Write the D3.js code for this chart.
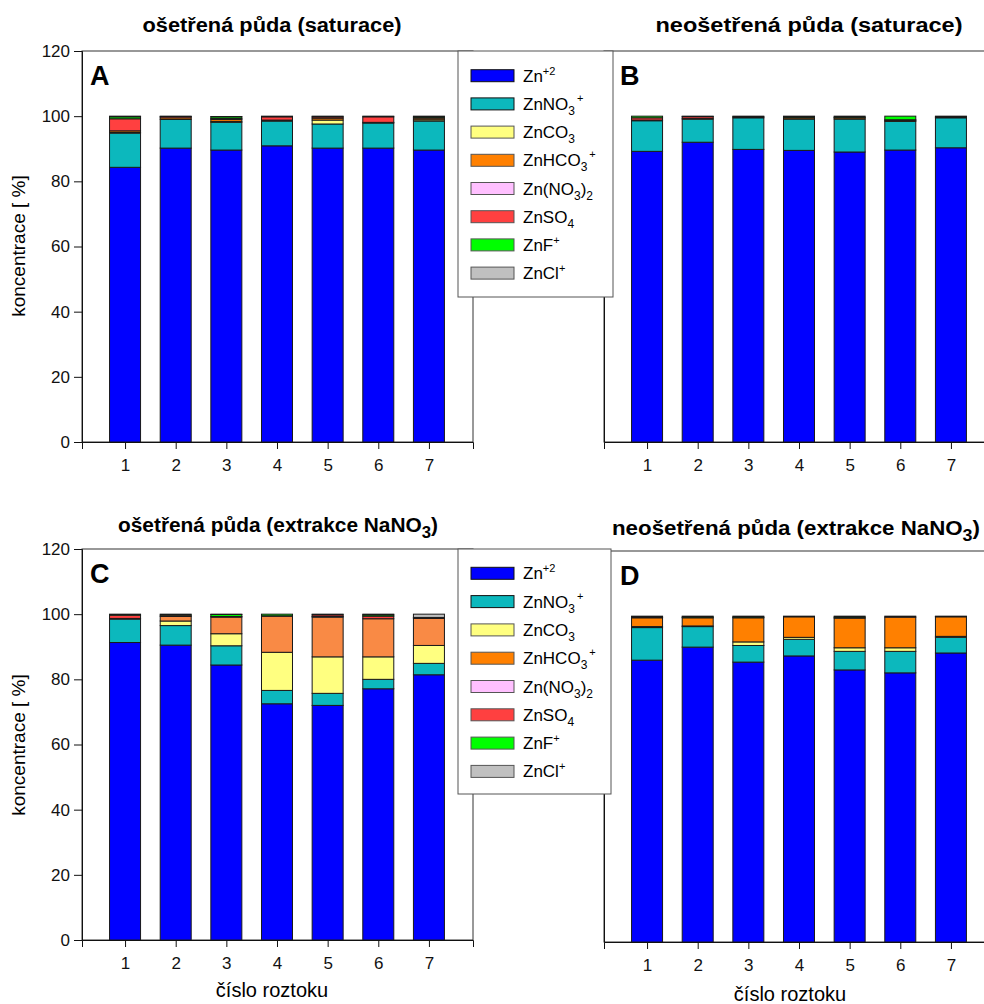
<!DOCTYPE html>
<html>
<head>
<meta charset="utf-8">
<script src="https://cdn.jsdelivr.net/npm/d3@7"></script>
<style>
  body { margin: 0; background: #fff; }
  svg { font-family: Arial, "Liberation Sans", sans-serif; }
</style>
</head>
<body>
<div class="graphContainer"></div>
<script>
// categories (solution number) and species
const categories = [1, 2, 3, 4, 5, 6, 7];
const species = ["Zn2", "ZnNO3", "ZnCO3", "ZnHCO3", "ZnNO32", "ZnSO4", "ZnF", "ZnCl"];
const speciesColors = ["#0000ff", "#0cb8bd", "#ffff80", "#ff8000", "#ffc0ff", "#ff4040", "#00ff00", "#c0c0c0"];
// panel C shows the bicarbonate fill a bit lighter
const speciesColorsC = ["#0000ff", "#0cb8bd", "#ffff80", "#f98a45", "#ffc0ff", "#ff4040", "#00ff00", "#c0c0c0"];
const yTicks = [0, 20, 40, 60, 80, 100, 120];

// legend labels: [text, "sub"/"sup"/""]
const speciesLabels = [
  [["Zn", ""], ["+2", "sup"]],
  [["ZnNO", ""], ["3", "sub"], ["+", "supAfterSub"]],
  [["ZnCO", ""], ["3", "sub"]],
  [["ZnHCO", ""], ["3", "sub"], ["+", "supAfterSub"]],
  [["Zn(NO", ""], ["3", "sub"], [")", "back"], ["2", "sub"]],
  [["ZnSO", ""], ["4", "sub"]],
  [["ZnF", ""], ["+", "sup"]],
  [["ZnCl", ""], ["+", "sup"]]
];

// A - treated soil (saturation), one row per species
const panelA = [
  [84.3, 90.2, 89.6, 90.9, 90.2, 90.2, 89.6],
  [10.5, 8.8, 8.5, 7.6, 7.4, 7.7, 8.9],
  [0.2, 0, 0.3, 0, 1.2, 0, 0.4],
  [0.5, 0.5, 0.6, 0.3, 0.6, 0.2, 0.5],
  [0, 0, 0, 0, 0, 0, 0],
  [3.7, 0.4, 0.3, 1.0, 0.4, 1.7, 0.3],
  [0.6, 0.1, 0.5, 0.2, 0.2, 0.2, 0.3],
  [0.2, 0, 0.1, 0, 0, 0, 0]
];
// B - untreated soil (saturation)
const panelB = [
  [89.2, 92.0, 89.8, 89.5, 89.0, 89.6, 90.3],
  [9.4, 7.1, 9.7, 9.6, 10.1, 8.8, 9.2],
  [0, 0, 0, 0, 0, 0, 0],
  [0.2, 0.3, 0.3, 0.4, 0.4, 0.3, 0.3],
  [0, 0, 0, 0, 0, 0, 0],
  [0.7, 0.5, 0, 0.2, 0.2, 0.2, 0],
  [0.5, 0.1, 0.2, 0.3, 0.3, 1.1, 0.2],
  [0, 0, 0, 0, 0, 0, 0]
];
// C - treated soil (NaNO3 extraction)
const panelC = [
  [91.3, 90.5, 84.4, 72.5, 72.0, 77.1, 81.4],
  [7.2, 6.0, 5.9, 4.1, 3.7, 2.9, 3.5],
  [0, 1.4, 3.7, 11.7, 11.2, 6.9, 5.5],
  [0.2, 1.4, 5.1, 11.1, 12.2, 11.7, 8.3],
  [0, 0, 0, 0, 0.2, 0, 0],
  [1.0, 0.4, 0.2, 0.1, 0.5, 0.8, 0.2],
  [0.3, 0.3, 0.6, 0.5, 0.2, 0.4, 0.1],
  [0, 0, 0.1, 0, 0, 0.2, 1.0]
];
// D - untreated soil (NaNO3 extraction)
const panelD = [
  [86.5, 90.5, 85.9, 87.8, 83.5, 82.6, 88.7],
  [10.0, 6.3, 5.1, 5.1, 5.7, 6.6, 4.8],
  [0.3, 0.2, 1.1, 0.6, 1.1, 1.1, 0.3],
  [2.7, 2.5, 7.4, 6.3, 9.1, 9.4, 6.0],
  [0.1, 0, 0, 0, 0, 0, 0],
  [0.2, 0.2, 0.2, 0.1, 0.3, 0.3, 0.1],
  [0.2, 0.3, 0.3, 0.1, 0.3, 0, 0.1],
  [0, 0, 0, 0, 0, 0, 0]
];

const w = 984, h = 1004;
const pw = 391, ph = 391;

const svg = d3.select(".graphContainer")
  .append("svg")
  .attr("width", w)
  .attr("height", h);

function drawPanel(rows, left, top, letter, showYLabels, colors) {
  const x = d3.scaleLinear().domain([0.15, 7.87]).range([0, pw]);
  const y = d3.scaleLinear().domain([0, 120]).range([ph, 0]);

  const table = categories.map(function (c, i) {
    const o = { cat: c };
    species.forEach(function (s, k) { o[s] = rows[k][i]; });
    return o;
  });
  const stacked = d3.stack().keys(species)(table);

  const g = svg.append("g").attr("transform", "translate(" + left + "," + top + ")");

  // frame
  g.append("rect")
    .attr("width", pw).attr("height", ph)
    .attr("fill", "none").attr("stroke", "#333").attr("stroke-width", 1);

  g.selectAll("g.layer")
    .data(stacked)
    .enter()
    .append("g")
    .attr("class", "layer")
    .attr("fill", function (d, i) { return colors[i]; })
    .selectAll("rect")
    .data(function (d) { return d.filter(function (p) { return p[1] - p[0] > 0; }); })
    .enter()
    .append("rect")
    .attr("x", function (d) { return x(d.data.cat) - 15.5; })
    .attr("width", 31)
    .attr("y", function (d) { return y(d[1]); })
    .attr("height", function (d) { return y(d[0]) - y(d[1]); })
    .attr("stroke", "#1a1a1a")
    .attr("stroke-width", 1);

  // y axis
  const yAxis = d3.axisLeft(y).tickValues(yTicks).tickSize(showYLabels ? 8 : 0)
    .tickFormat(showYLabels ? d3.format("d") : "");
  const ya = g.append("g").call(yAxis);
  ya.select(".domain").attr("stroke", "#111");
  ya.selectAll("line").attr("stroke", "#111");
  ya.selectAll("text").attr("font-size", 17).attr("fill", "#111").attr("x", -12);

  // x axis
  const xAxis = d3.axisBottom(x).tickValues(categories).tickSize(7).tickFormat(d3.format("d"));
  const xa = g.append("g").attr("transform", "translate(0," + ph + ")").call(xAxis);
  xa.select(".domain").attr("stroke", "#111");
  xa.selectAll("line").attr("stroke", "#111");
  xa.selectAll("text").attr("font-size", 17).attr("fill", "#111").attr("y", 17);

  g.append("text")
    .attr("x", letter === "A" || letter === "C" ? 8 : 16)
    .attr("y", 34)
    .attr("font-size", 27)
    .attr("font-weight", "bold")
    .text(letter);
}

drawPanel(panelA, 82, 51, "A", true, speciesColors);
drawPanel(panelB, 604, 51, "B", false, speciesColors);
drawPanel(panelC, 82, 549, "C", true, speciesColorsC);
drawPanel(panelD, 604, 551, "D", false, speciesColors);

// y labels
[246, 745].forEach(function (cy) {
  svg.append("text")
    .attr("transform", "translate(25," + cy + ") rotate(-90)")
    .attr("text-anchor", "middle")
    .attr("font-size", 19)
    .text("koncentrace [ %]");
});

// x labels
svg.append("text").attr("x", 272).attr("y", 997).attr("text-anchor", "middle")
  .attr("font-size", 20).text("číslo roztoku");
svg.append("text").attr("x", 790).attr("y", 1001).attr("text-anchor", "middle")
  .attr("font-size", 20).text("číslo roztoku");

// titles
function title(x, y, size, len, main, sub, tail) {
  const t = svg.append("text").attr("x", x - len / 2).attr("y", y)
    .attr("font-size", size).attr("font-weight", "bold")
    .attr("textLength", len).attr("lengthAdjust", "spacingAndGlyphs");
  t.append("tspan").text(main);
  if (sub) {
    t.append("tspan").attr("dy", 6).attr("font-size", size * 0.8).text(sub);
    t.append("tspan").attr("dy", -6).text(tail);
  }
}
title(272, 32, 20, 259, "ošetřená půda (saturace)");
title(809, 32, 20, 307, "neošetřená půda (saturace)");
title(278, 532, 20, 320, "ošetřená půda (extrakce NaNO", "3", ")");
title(796, 535, 20, 368, "neošetřená půda (extrakce NaNO", "3", ")");

// legends
function legend(left, top, wd, ht, firstY, step) {
  const lg = svg.append("g").attr("transform", "translate(" + left + "," + top + ")");
  lg.append("rect").attr("width", wd).attr("height", ht)
    .attr("fill", "#fff").attr("stroke", "#555").attr("stroke-width", 1);
  const items = lg.selectAll("g.item")
    .data(species)
    .enter()
    .append("g")
    .attr("class", "item")
    .attr("transform", function (d, i) { return "translate(0," + (firstY + i * step) + ")"; });
  items.append("rect")
    .attr("x", 13).attr("y", -6).attr("width", 43).attr("height", 12)
    .attr("fill", function (d, i) { return speciesColors[i]; })
    .attr("stroke", function (d, i) { return i < 2 ? "#111" : "#555"; })
    .attr("stroke-width", 1);
  items.each(function (d, i) {
    const t = d3.select(this).append("text").attr("x", 65).attr("y", 6).attr("font-size", 17);
    let shift = 0;
    speciesLabels[i].forEach(function (p) {
      const ts = t.append("tspan").text(p[0]);
      if (p[1] === "sup") {
        ts.attr("dy", -7 - shift).attr("font-size", 11); shift = -7;
      } else if (p[1] === "sub") {
        ts.attr("dy", 5 - shift).attr("font-size", 12); shift = 5;
      } else if (p[1] === "supAfterSub") {
        ts.attr("dy", -13).attr("dx", 2).attr("font-size", 11); shift = -8;
      } else if (p[1] === "back") {
        ts.attr("dy", -shift); shift = 0;
      }
    });
  });
}
legend(458, 51, 155, 246, 24.7, 28.2);
legend(458, 549, 153, 245, 24.3, 28.3);
</script>
</body>
</html>
